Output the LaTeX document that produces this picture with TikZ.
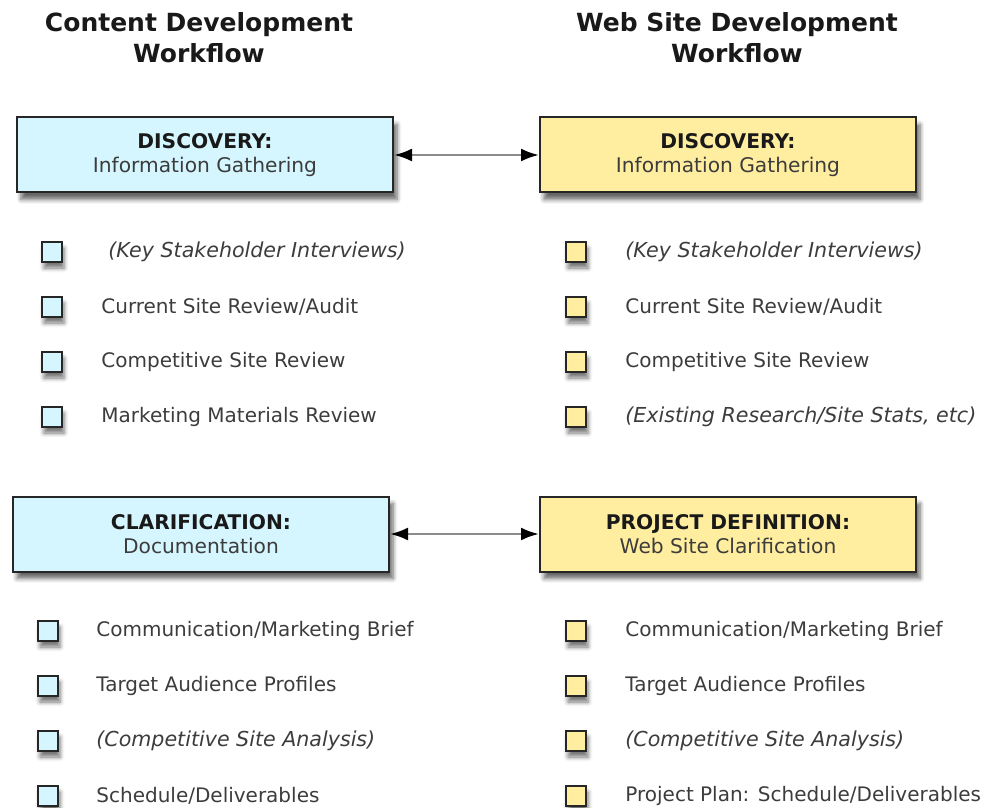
\documentclass[tikz,border=0pt]{standalone}
\usepackage{fontspec}
\setmainfont{DejaVu Sans}
\usetikzlibrary{positioning,arrows.meta,shadows.blur}

\definecolor{cianoclaro}{RGB}{214,246,255}
\definecolor{amareloclaro}{RGB}{255,238,160}
\definecolor{textocinza}{RGB}{60,60,60}

\begin{document}
\begin{tikzpicture}[
  x=0.5pt, y=-0.5pt,
  titulo/.style={font=\bfseries\fontsize{12.5}{15.5}\selectfont, align=center, text=black!90},
  etapa/.style={rectangle, draw=black!85, line width=1pt, minimum width=188pt,
                minimum height=37.5pt, align=center, text=textocinza,
                font=\fontsize{10.1}{12}\selectfont,
                blur shadow={shadow xshift=2pt, shadow yshift=-3.5pt, shadow blur steps=6, shadow opacity=60}},
  conteudo/.style={etapa, fill=cianoclaro},
  site/.style={etapa, fill=amareloclaro},
  caixa/.style={rectangle, draw=black!85, line width=1pt, minimum size=10pt, inner sep=0pt,
                blur shadow={shadow xshift=1pt, shadow yshift=-3pt, shadow blur steps=4, shadow opacity=55}},
  cxc/.style={caixa, fill=cianoclaro},
  cxs/.style={caixa, fill=amareloclaro},
  item/.style={anchor=west, inner sep=0pt, text=textocinza, font=\fontsize{10}{12}\selectfont},
  nota/.style={item, font=\itshape\fontsize{10.3}{12}\selectfont},
  seta/.style={{Latex[length=9pt,width=6.5pt,color=black]}-{Latex[length=9pt,width=6.5pt,color=black]},
               draw=black!45, line width=1.3pt}
]
\useasboundingbox (0,0) rectangle (992,808);

% ---------------- Titulos ----------------
\node[titulo] (tc) at (199,38) {Content Development\\Workflow};
\node[titulo] (ts) at (737,38) {Web Site Development\\Workflow};

% ---------------- Discovery ----------------
\node[conteudo] (dc) at (205,155) {\textbf{\color{black!90}DISCOVERY:}\\Information Gathering};
\node[site] (ds) at (728,155) {\textbf{\color{black!90}DISCOVERY:}\\Information Gathering};

\node[cxc] (c1) at (52,252) {};
\node[cxc] (c2) at (52,307) {};
\node[cxc] (c3) at (52,362) {};
\node[cxc] (c4) at (52,417) {};
\node[nota] (i1) at (108,252) {(Key Stakeholder Interviews)};
\node[item] (i2) at (101,307) {Current Site Review/Audit};
\node[item] (i3) at (101,362) {Competitive Site Review};
\node[item] (i4) at (101,417) {Marketing Materials Review};

\node[cxs] (s1) at (576,252) {};
\node[cxs] (s2) at (576,307) {};
\node[cxs] (s3) at (576,362) {};
\node[cxs] (s4) at (576,417) {};
\node[nota] (j1) at (625,252) {(Key Stakeholder Interviews)};
\node[item] (j2) at (625,307) {Current Site Review/Audit};
\node[item] (j3) at (625,362) {Competitive Site Review};
\node[nota] (j4) at (625,417) {(Existing Research/Site Stats, etc)};

% ---------------- Clarification / Project definition ----------------
\node[conteudo] (cc) at (201,534) {\textbf{\color{black!90}CLARIFICATION:}\\Documentation};
\node[site] (ps) at (728,534) {\textbf{\color{black!90}PROJECT DEFINITION:}\\Web Site Clarification};

\node[cxc] (c5) at (48,631) {};
\node[cxc] (c6) at (48,686) {};
\node[cxc] (c7) at (48,741) {};
\node[cxc] (c8) at (48,796) {};
\node[item] (i5) at (96,631) {Communication/Marketing Brief};
\node[item] (i6) at (96,686) {Target Audience Profiles};
\node[nota] (i7) at (96,741) {(Competitive Site Analysis)};
\node[item] (i8) at (96,796) {Schedule/Deliverables};

\node[cxs] (s5) at (576,631) {};
\node[cxs] (s6) at (576,686) {};
\node[cxs] (s7) at (576,741) {};
\node[cxs] (s8) at (576,796) {};
\node[item] (j5) at (625,631) {Communication/Marketing Brief};
\node[item] (j6) at (625,686) {Target Audience Profiles};
\node[nota] (j7) at (625,741) {(Competitive Site Analysis)};
\node[item] (j8) at (625,796) {Project Plan: Schedule/Deliverables};

% ---------------- Setas ----------------
\draw[seta] (dc.east) -- (ds.west);
\draw[seta] (cc.east) -- (ps.west);

\end{tikzpicture}
\end{document}
